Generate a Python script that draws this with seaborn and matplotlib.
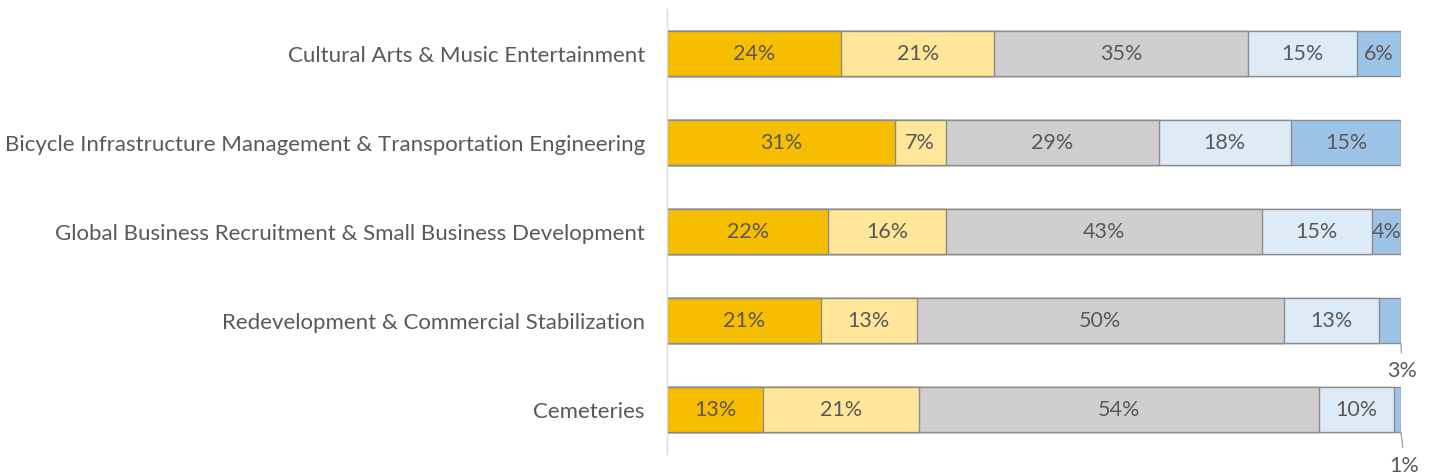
import numpy as np
import pandas as pd
import matplotlib
matplotlib.use("Agg")
import matplotlib.pyplot as plt
import seaborn as sns

categories = ["Cultural Arts & Music Entertainment",
              "Bicycle Infrastructure Management & Transportation Engineering",
              "Global Business Recruitment & Small Business Development",
              "Redevelopment & Commercial Stabilization",
              "Cemeteries"]
series_names = ["S1", "S2", "S3", "S4", "S5"]
s1 = [24, 31, 22, 21, 13]
s2 = [21, 7, 16, 13, 21]
s3 = [35, 29, 43, 50, 54]
s4 = [15, 18, 15, 13, 10]
s5 = [6, 15, 4, 3, 1]
colors = ["#F7BE00", "#FFE699", "#D0CECE", "#DDEBF7", "#9DC3E6"]

sns.set_theme(style="white")
plt.rcParams["font.family"] = ["Lato", "DejaVu Sans"]

vals = np.array([s1, s2, s3, s4, s5], dtype=float)  # series x category
shares = vals / vals.sum(axis=0) * 100
cum = np.cumsum(shares, axis=0)

rows = []
for si, name in enumerate(series_names):
    for ci, cat in enumerate(categories):
        rows.append({"category": cat, "series": name, "cum": cum[si, ci],
                     "share": shares[si, ci], "label": vals[si, ci]})
df = pd.DataFrame(rows)

fig = plt.figure(figsize=(14.29, 4.77), dpi=100)
ax = fig.add_axes([667/1429, 1 - 455/477, (1401 - 667)/1429, 445/477])

pal = dict(zip(series_names, colors))
sns.barplot(data=df, x="cum", y="category", hue="series", order=categories,
            hue_order=series_names[::-1], palette=pal, dodge=False, width=0.51,
            edgecolor="#8C8C8C", linewidth=1.0, saturation=1, legend=False, ax=ax)

ax.set_xlim(0, 100)
ax.set_ylim(4.5, -0.5)
ax.set_xlabel("")
ax.set_ylabel("")
ax.set_xticks([])
for sp in ["top", "right", "bottom"]:
    ax.spines[sp].set_visible(False)
ax.spines["left"].set_color("#D9D9D9")
ax.spines["left"].set_linewidth(1.0)
ax.tick_params(axis="y", length=0, pad=16, labelsize=16, labelcolor="#595959")

# outside label placement (layout only) for tiny segments
outside_pos = {3: (100.15, 0.56), 4: (100.5, 0.62)}

txtc = "#595959"
for si in range(len(series_names)):
    for ci in range(len(categories)):
        sh = shares[si, ci]
        lab = f"{int(vals[si, ci])}%"
        if sh >= 4:
            x = cum[si, ci] - sh / 2
            ax.text(x, ci, lab, ha="center", va="center", fontsize=15.5, color=txtc)
        else:
            ox, oy = outside_pos.get(ci, (100.3, 0.58))
            ax.annotate(lab, xy=(cum[si, ci], ci + 0.255), xytext=(ox, ci + oy),
                        ha="center", va="center", fontsize=15.5, color=txtc,
                        annotation_clip=False,
                        arrowprops=dict(arrowstyle="-", color="#A6A6A6", lw=1.0,
                                        shrinkA=3, shrinkB=0, clip_on=False))

fig.savefig("out.png", dpi=100, facecolor="white")
